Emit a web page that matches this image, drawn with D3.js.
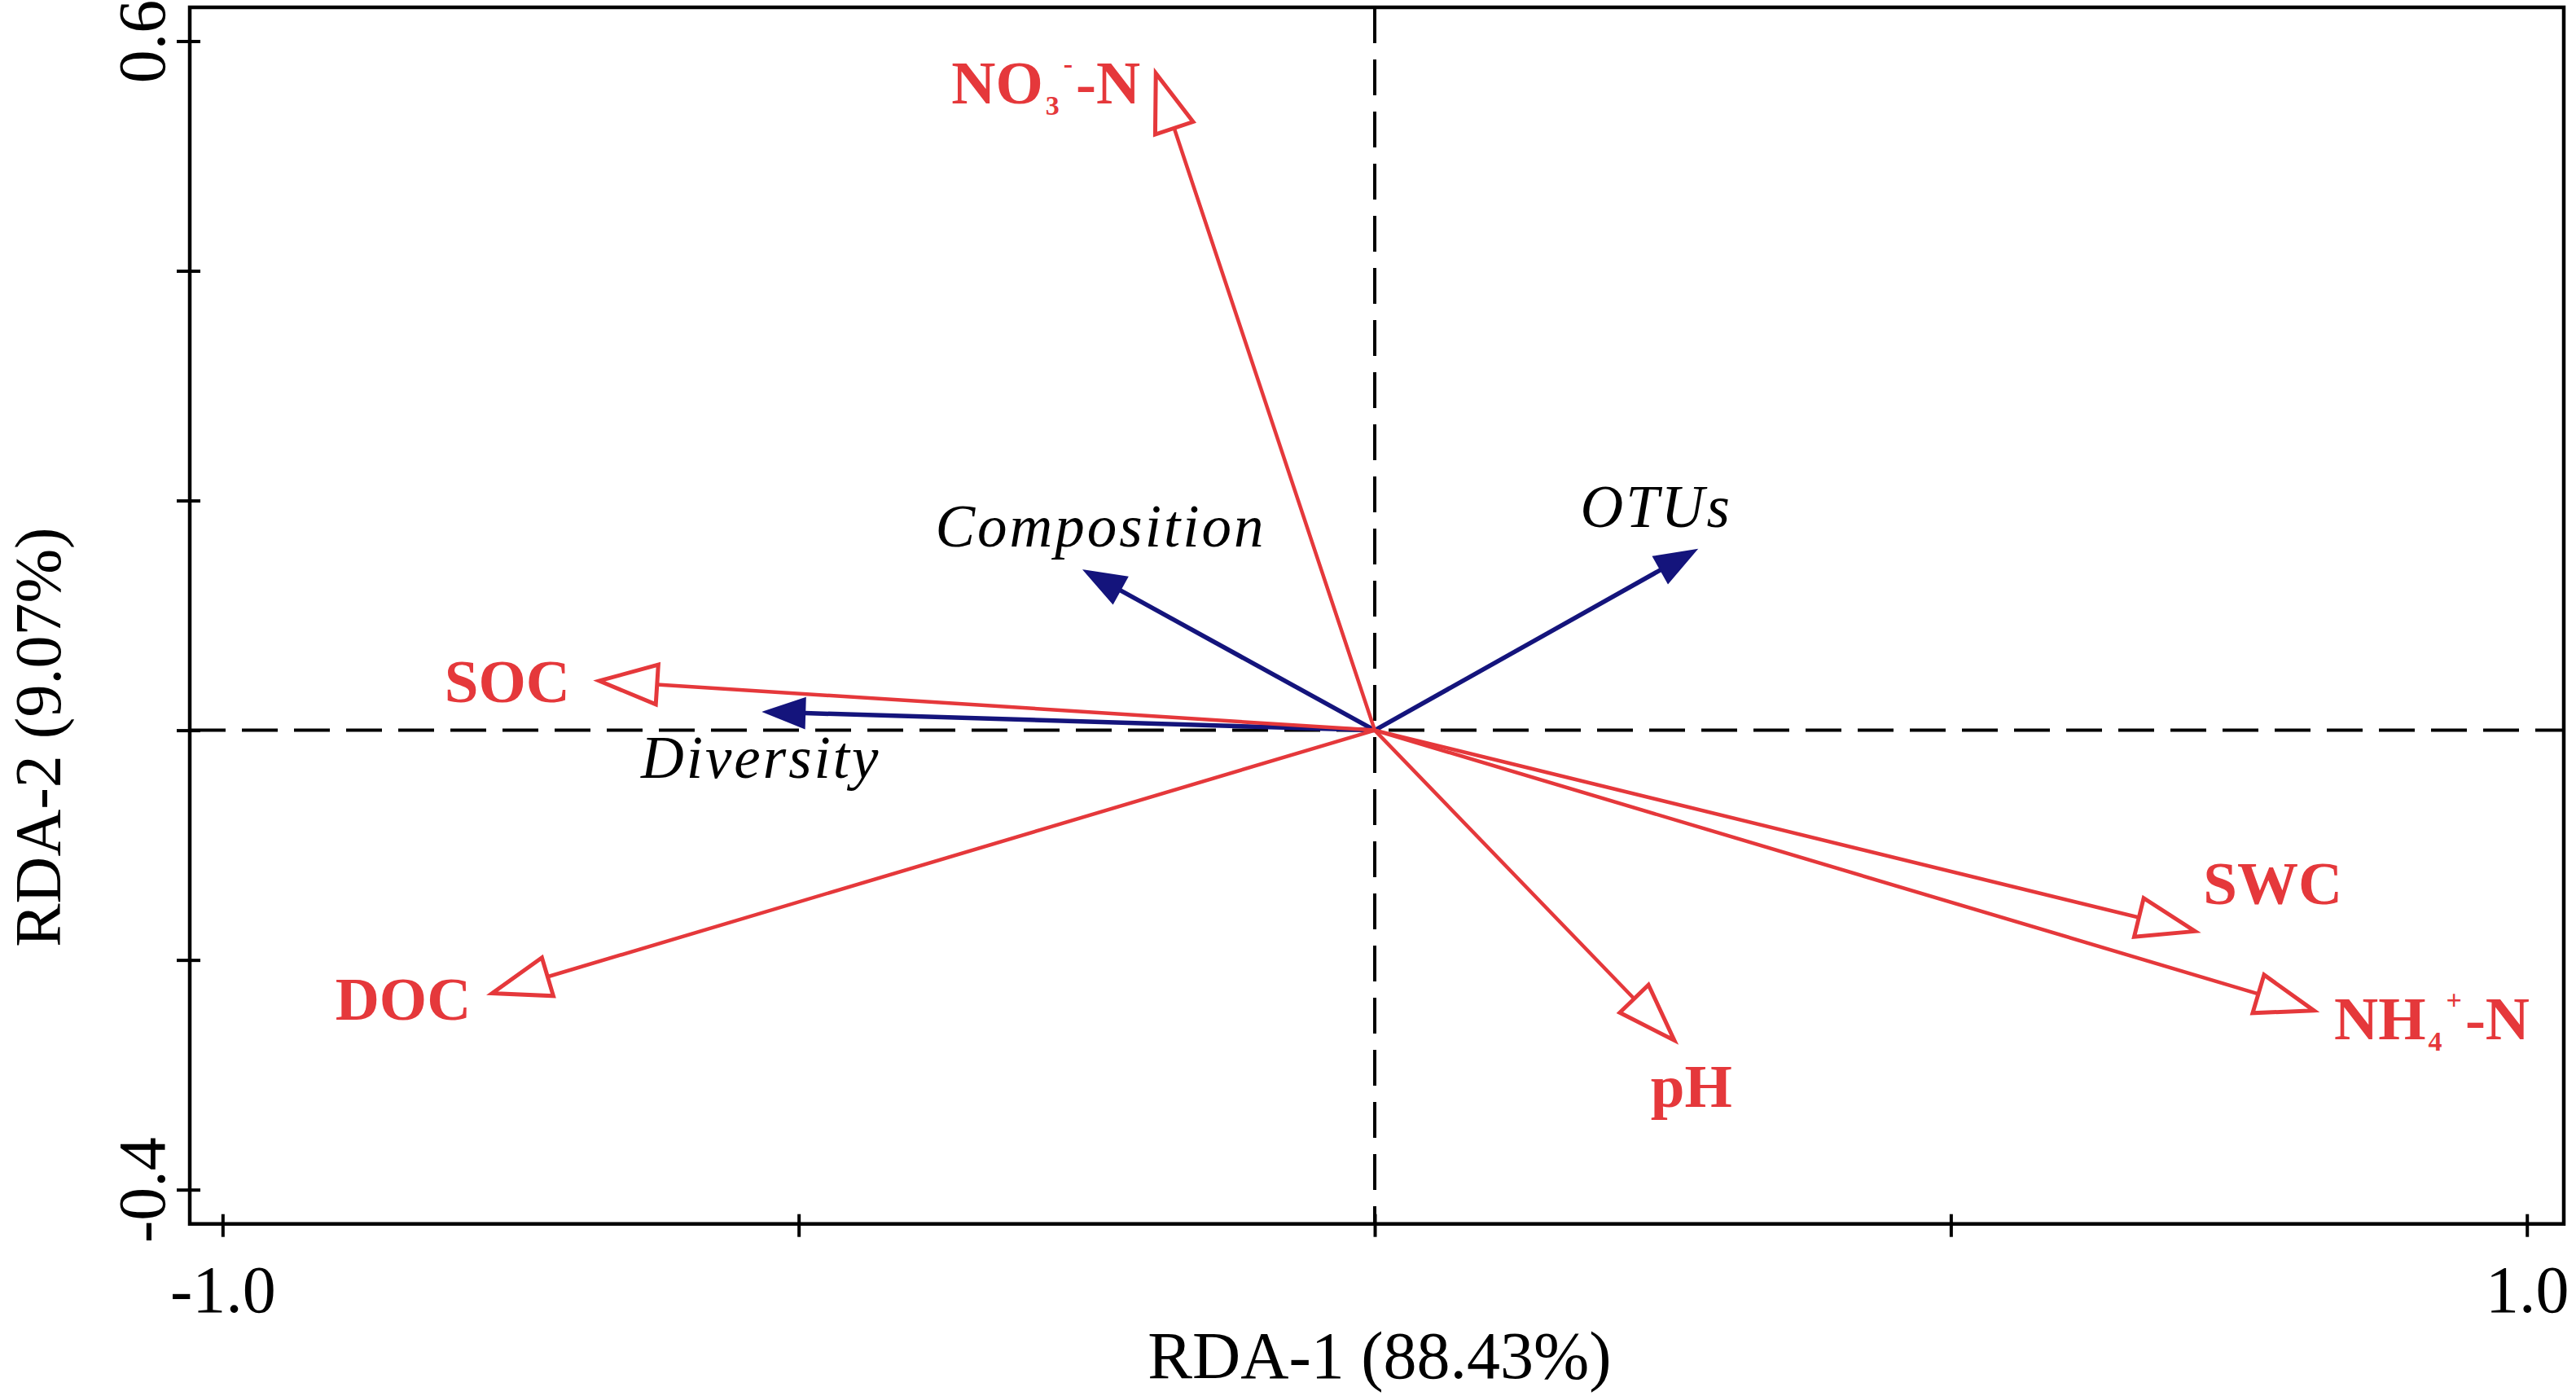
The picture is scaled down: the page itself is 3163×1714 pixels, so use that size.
<!DOCTYPE html>
<html>
<head>
<meta charset="utf-8">
<script src="https://cdn.jsdelivr.net/npm/d3@7"></script>
<style>
  body { margin: 0; background: #fff; }
  text { font-family: "Liberation Serif", "Times New Roman", serif; }
</style>
</head>
<body>
<div id="rda"></div>
<script>
// environmental variables (red, open heads)
var envNames = ["NO3-N", "SOC", "DOC", "pH", "SWC", "NH4-N"];
var envRDA1 = [-0.190, -0.673, -0.766, 0.260, 0.712, 0.815];
var envRDA2 = [0.572, 0.043, -0.229, -0.270, -0.175, -0.244];

// response variables (blue, filled heads)
var respNames = ["Composition", "OTUs", "Diversity"];
var respRDA1 = [-0.252, 0.279, -0.530];
var respRDA2 = [0.139, 0.157, 0.016];

var xTicks = [-1.0, -0.5, 0, 0.5, 1.0];
var xTickLabels = ["-1.0", "", "", "", "1.0"];
var yTicks = [0.6, 0.4, 0.2, 0, -0.2, -0.4];
var yTickLabels = ["0.6", "", "", "", "", "-0.4"];

var xTitle = "RDA-1 (88.43%)";
var yTitle = "RDA-2 (9.07%)";

// label pieces with sub/superscripts
var envLabelParts = {
  "NO3-N": [["NO", ""], ["3", "sub"], ["-", "sup"], ["-N", ""]],
  "SOC": [["SOC", ""]],
  "DOC": [["DOC", ""]],
  "pH": [["pH", ""]],
  "SWC": [["SWC", ""]],
  "NH4-N": [["NH", ""], ["4", "sub"], ["+", "sup"], ["-N", ""]]
};

// where each label sits relative to its arrow tip (px)
var labelPlace = {
  "NO3-N": {dx: -19, dy: 37, anchor: "end"},
  "SOC": {dx: -36, dy: 26, anchor: "end"},
  "DOC": {dx: -26, dy: 32, anchor: "end"},
  "pH": {dx: 21, dy: 82, anchor: "middle"},
  "SWC": {dx: 10, dy: -33, anchor: "start"},
  "NH4-N": {dx: 25, dy: 35, anchor: "start"},
  "Composition": {dx: 20, dy: -30, anchor: "middle"},
  "OTUs": {dx: -49, dy: -28, anchor: "middle"},
  "Diversity": {dx: -4, dy: 81, anchor: "middle"}
};

var W = 3163, H = 1714;
var frame = {left: 233, top: 9, right: 3148, bottom: 1502.7};
var red = "#e5383b", blue = "#14147c";

var svg = d3.select("#rda")
  .append("svg")
    .attr("width", W)
    .attr("height", H)
    .style("display", "block");

var x = d3.scaleLinear()
    .domain([-1.0285, 1.032])
    .range([frame.left, frame.right]);

var y = d3.scaleLinear()
    .domain([-0.4298, 0.6294])
    .range([frame.bottom, frame.top]);

// X axis, ticks cross the frame
var xAxis = svg.append("g")
    .attr("transform", "translate(0," + frame.bottom + ")")
    .call(d3.axisBottom(x)
      .tickValues(xTicks)
      .tickSize(16)
      .tickFormat(function(d, i) { return xTickLabels[i]; }));
xAxis.select(".domain").remove();
xAxis.selectAll(".tick line")
    .attr("y1", -12).attr("y2", 16)
    .attr("stroke", "#000").attr("stroke-width", 4);
xAxis.selectAll(".tick text")
    .attr("y", 108).attr("dy", 0)
    .attr("fill", "#000")
    .style("font-size", "82px");

// Y axis, rotated labels
var yAxis = svg.append("g")
    .attr("transform", "translate(" + frame.left + ",0)")
    .call(d3.axisLeft(y)
      .tickValues(yTicks)
      .tickSize(16)
      .tickFormat(function(d, i) { return yTickLabels[i]; }));
yAxis.select(".domain").remove();
yAxis.selectAll(".tick line")
    .attr("x1", 13).attr("x2", -16)
    .attr("stroke", "#000").attr("stroke-width", 4);
yAxis.selectAll(".tick text")
    .attr("transform", "rotate(-90)")
    .attr("x", 0).attr("y", -31).attr("dy", 0)
    .attr("text-anchor", "middle")
    .attr("fill", "#000")
    .style("font-size", "82px");

// frame
svg.append("rect")
    .attr("x", frame.left)
    .attr("y", frame.top)
    .attr("width", frame.right - frame.left)
    .attr("height", frame.bottom - frame.top)
    .attr("fill", "none")
    .attr("stroke", "#000")
    .attr("stroke-width", 4.5);

// zero lines
svg.append("line")
    .attr("x1", x(0)).attr("x2", x(0))
    .attr("y1", frame.top).attr("y2", frame.bottom)
    .attr("stroke", "#000").attr("stroke-width", 4)
    .attr("stroke-dasharray", "44,20");
svg.append("line")
    .attr("x1", frame.left).attr("x2", frame.right)
    .attr("y1", y(0)).attr("y2", y(0))
    .attr("stroke", "#000").attr("stroke-width", 4)
    .attr("stroke-dasharray", "44,20");

var x0 = x(0), y0 = y(0);

function arrowGeom(vx, vy, headLen, headW) {
  var tx = x(vx), ty = y(vy);
  var dx = tx - x0, dy = ty - y0;
  var len = Math.sqrt(dx * dx + dy * dy);
  var ux = dx / len, uy = dy / len;
  var bx = tx - ux * headLen, by = ty - uy * headLen;
  var px = -uy * headW / 2, py = ux * headW / 2;
  return {
    tip: [tx, ty],
    base: [bx, by],
    head: [[tx, ty], [bx + px, by + py], [bx - px, by - py]]
  };
}

var envData = envNames.map(function(n, i) {
  return {name: n, v1: envRDA1[i], v2: envRDA2[i]};
});
var respData = respNames.map(function(n, i) {
  return {name: n, v1: respRDA1[i], v2: respRDA2[i]};
});

// blue arrows
var resp = svg.selectAll(".resp")
  .data(respData)
  .enter()
  .append("g")
    .attr("class", "resp");
resp.append("line")
    .attr("x1", x0).attr("y1", y0)
    .attr("x2", function(d) { return arrowGeom(d.v1, d.v2, 50, 37).base[0]; })
    .attr("y2", function(d) { return arrowGeom(d.v1, d.v2, 50, 37).base[1]; })
    .attr("stroke", blue).attr("stroke-width", 5.5);
resp.append("path")
    .attr("d", function(d) { return "M" + arrowGeom(d.v1, d.v2, 50, 37).head.join("L") + "Z"; })
    .attr("fill", blue)
    .attr("stroke", blue).attr("stroke-width", 2)
    .attr("stroke-linejoin", "miter");

// red arrows
var env = svg.selectAll(".env")
  .data(envData)
  .enter()
  .append("g")
    .attr("class", "env");
env.append("line")
    .attr("x1", x0).attr("y1", y0)
    .attr("x2", function(d) { return arrowGeom(d.v1, d.v2, 71, 49).base[0]; })
    .attr("y2", function(d) { return arrowGeom(d.v1, d.v2, 71, 49).base[1]; })
    .attr("stroke", red).attr("stroke-width", 4.5);
env.append("path")
    .attr("d", function(d) { return "M" + arrowGeom(d.v1, d.v2, 71, 49).head.join("L") + "Z"; })
    .attr("fill", "#fff")
    .attr("stroke", red).attr("stroke-width", 5)
    .attr("stroke-linejoin", "miter");

// red labels
env.each(function(d) {
  var p = labelPlace[d.name];
  var t = d3.select(this).append("text")
    .attr("x", x(d.v1) + p.dx)
    .attr("y", y(d.v2) + p.dy)
    .attr("text-anchor", p.anchor)
    .attr("fill", red)
    .style("font-weight", "bold")
    .style("font-size", "75px");
  var shift = 0;
  envLabelParts[d.name].forEach(function(part) {
    var s = t.append("tspan").text(part[0]);
    if (part[1] == "sub") {
      s.attr("dy", 14 - shift).attr("dx", 3).style("font-size", "34px");
      shift = 14;
    } else if (part[1] == "sup") {
      s.attr("dy", -37 - shift).attr("dx", 5).style("font-size", "34px");
      shift = -37;
    } else {
      if (shift != 0) s.attr("dy", -shift).attr("dx", 4);
      shift = 0;
    }
  });
});

// italic black labels
resp.append("text")
    .attr("x", function(d) { return x(d.v1) + labelPlace[d.name].dx; })
    .attr("y", function(d) { return y(d.v2) + labelPlace[d.name].dy; })
    .attr("text-anchor", function(d) { return labelPlace[d.name].anchor; })
    .attr("fill", "#000")
    .style("font-style", "italic")
    .style("font-size", "73px")
    .style("letter-spacing", "3px")
    .text(function(d) { return d.name; });

// axis titles
svg.append("text")
    .attr("x", 1694)
    .attr("y", 1692)
    .attr("text-anchor", "middle")
    .style("font-size", "82px")
    .text(xTitle);

svg.append("text")
    .attr("transform", "translate(74,905) rotate(-90)")
    .attr("text-anchor", "middle")
    .style("font-size", "80px")
    .text(yTitle);
</script>
</body>
</html>
